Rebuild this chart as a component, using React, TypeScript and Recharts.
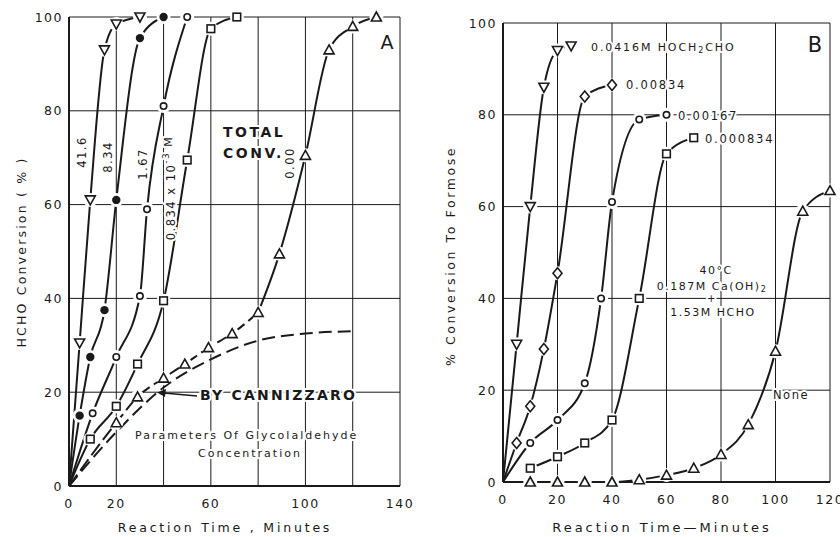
import React from 'react';
import { LineChart, Line, XAxis, YAxis, CartesianGrid } from 'recharts';

// Panel A: HCHO conversion (%) vs time, glycolaldehyde concentration x 10^-3 M
const timeA416 = [0, 4.5, 9, 15, 20, 30];
const convA416 = [0, 30.5, 61, 93, 98.5, 100];
const timeA834 = [0, 4.5, 9, 15, 20, 30, 40];
const convA834 = [0, 15, 27.5, 37.5, 61, 95.5, 100];
const timeA167 = [0, 10, 20, 30, 33, 40, 50];
const convA167 = [0, 15.5, 27.5, 40.5, 59, 81, 100];
const timeA0834 = [0, 9, 20, 29, 40, 50, 60, 71];
const convA0834 = [0, 10, 17, 26, 39.5, 69.5, 97.5, 100];
const timeA000 = [0, 20, 29, 40, 49, 59, 69, 80, 89, 100, 110, 120, 130];
const convA000 = [0, 13.5, 19, 23, 26, 29.5, 32.5, 37, 49.5, 70.5, 93, 98, 100];
const timeCannizzaro = [0, 20, 40, 60, 80, 100, 120];
const convCannizzaro = [0, 11.5, 21, 27, 31, 32.5, 33];

const ticksA_x = [0, 20, 40, 60, 80, 100, 120, 140];
const labelsA_x = [0, 20, 60, 100, 140];
const ticksY = [0, 20, 40, 60, 80, 100];

// Panel B: % conversion to formose vs time
const timeB0416 = [0, 5, 10, 15, 20, 25];
const convB0416 = [0, 30, 60, 86, 94, 95];
const timeB00834 = [0, 5, 10, 15, 20, 30, 40];
const convB00834 = [0, 8.5, 16.5, 29, 45.5, 84, 86.5];
const timeB00167 = [0, 10, 20, 30, 36, 40, 50, 60];
const convB00167 = [0, 8.5, 13.5, 21.5, 40, 61, 79, 80];
const timeB000834 = [10, 20, 30, 40, 50, 60, 70];
const convB000834 = [3, 5.5, 8.5, 13.5, 40, 71.5, 75];
const timeBNone = [0, 10, 20, 30, 40, 50, 60, 70, 80, 90, 100, 110, 120];
const convBNone = [0, 0, 0, 0, 0, 0.5, 1.5, 3, 6, 12.5, 28.5, 59, 63.5];

const ticksB_x = [0, 20, 40, 60, 80, 100, 120];

const zip = (ts: number[], vs: number[]) => ts.map((t, i) => ({ t, v: vs[i] }));

const INK = '#1a1a1a';
const FONT = '"DejaVu Sans", Verdana, sans-serif';

type Shape = 'triDown' | 'triUp' | 'dot' | 'circle' | 'square' | 'diamond';

const marker = (shape: Shape, name: string) => (p: any) => {
  const { cx, cy, index, payload } = p;
  const key = `${name}-${index}`;
  if (cx == null || cy == null || (payload && payload.t === 0 && payload.v === 0)) return <g key={key} />;
  const sw = 1.6;
  let m: React.ReactNode = null;
  if (shape === 'triDown')
    m = <polygon points={`${cx - 5},${cy - 4} ${cx + 5},${cy - 4} ${cx},${cy + 5}`} fill="#fff" stroke={INK} strokeWidth={sw} />;
  else if (shape === 'triUp')
    m = <polygon points={`${cx - 5},${cy + 4} ${cx + 5},${cy + 4} ${cx},${cy - 5}`} fill="#fff" stroke={INK} strokeWidth={sw} />;
  else if (shape === 'dot') m = <circle cx={cx} cy={cy} r={4.2} fill={INK} />;
  else if (shape === 'circle') m = <circle cx={cx} cy={cy} r={3.2} fill="#fff" stroke={INK} strokeWidth={sw} />;
  else if (shape === 'square')
    m = <rect x={cx - 3.8} y={cy - 3.8} width={7.6} height={7.6} fill="#fff" stroke={INK} strokeWidth={sw} />;
  else
    m = <polygon points={`${cx},${cy - 5.5} ${cx + 4.5},${cy} ${cx},${cy + 5.5} ${cx - 4.5},${cy}`} fill="#fff" stroke={INK} strokeWidth={sw} />;
  return (
    <g key={key}>
      <circle cx={cx} cy={cy} r={7} fill="#fff" />
      {m}
    </g>
  );
};

const XTick = (shown: number[]) => (p: any) => {
  const { x, y, payload } = p;
  if (!shown.includes(payload.value)) return <g />;
  return (
    <text x={x} y={y + 9} textAnchor="middle" dominantBaseline="central" fontSize={12.5} fontFamily={FONT} fill={INK} letterSpacing={1.5}>
      {payload.value}
    </text>
  );
};

const YTick = (p: any) => {
  const { x, y, payload } = p;
  return (
    <text x={x + 2} y={y} textAnchor="end" dominantBaseline="central" fontSize={12.5} fontFamily={FONT} fill={INK} letterSpacing={1.5}>
      {payload.value}
    </text>
  );
};

const T = ({ x, y, children, size = 11.5, weight = 400, rot, anchor = 'start', ls = 1.5 }: any) => (
  <text
    x={x}
    y={y}
    fontSize={size}
    fontWeight={weight}
    fontFamily={FONT}
    fill={INK}
    stroke="#fff"
    strokeWidth={4}
    paintOrder="stroke"
    letterSpacing={ls}
    textAnchor={anchor}
    dominantBaseline="central"
    transform={rot ? `rotate(${rot} ${x} ${y})` : undefined}
  >
    {children}
  </text>
);

const lineProps = { type: 'monotone' as const, dataKey: 'v', stroke: INK, strokeWidth: 2, isAnimationActive: false };

const a000 = zip(timeA000, convA000);

export default function App() {
  return (
    <div style={{ position: 'absolute', left: 0, top: 0, width: 840, height: 537, background: '#fff', overflow: 'hidden' }}>
      <div style={{ position: 'absolute', left: 0, top: 0 }}>
        <LineChart width={420} height={537} margin={{ top: 17, right: 20, bottom: 21, left: 0 }}>
          <CartesianGrid stroke={INK} strokeWidth={1} />
          <XAxis type="number" dataKey="t" domain={[0, 140]} ticks={ticksA_x} height={30} tickLine={false}
            axisLine={{ stroke: INK, strokeWidth: 2 }} tick={XTick(labelsA_x)} interval={0} allowDataOverflow />
          <YAxis type="number" domain={[0, 100]} ticks={ticksY} width={69} tickLine={false}
            axisLine={{ stroke: INK, strokeWidth: 2 }} tick={YTick} interval={0} />
          <Line {...lineProps} data={zip(timeCannizzaro, convCannizzaro)} strokeDasharray="13 6" dot={false} />
          {/* "0.00" curve: dashed along the slow part, solid on the steep rise */}
          <Line {...lineProps} data={a000.slice(0, 8)} strokeDasharray="14 5" dot={false} />
          <Line {...lineProps} data={a000.slice(7)} dot={false} />
          <Line {...lineProps} data={a000} stroke="none" dot={marker('triUp', 'a0')} />
          <Line {...lineProps} data={zip(timeA0834, convA0834)} dot={marker('square', 'a834s')} />
          <Line {...lineProps} data={zip(timeA167, convA167)} dot={marker('circle', 'a167')} />
          <Line {...lineProps} data={zip(timeA834, convA834)} dot={marker('dot', 'a834')} />
          <Line {...lineProps} data={zip(timeA416, convA416)} dot={marker('triDown', 'a416')} />
        </LineChart>
      </div>
      <div style={{ position: 'absolute', left: 420, top: 0 }}>
        <LineChart width={420} height={537} margin={{ top: 23, right: 10, bottom: 25, left: 0 }}>
          <CartesianGrid stroke={INK} strokeWidth={1} />
          <XAxis type="number" dataKey="t" domain={[0, 120]} ticks={ticksB_x} height={30} tickLine={false}
            axisLine={{ stroke: INK, strokeWidth: 2 }} tick={XTick(ticksB_x)} interval={0} />
          <YAxis type="number" domain={[0, 100]} ticks={ticksY} width={83} tickLine={false}
            axisLine={{ stroke: INK, strokeWidth: 2 }} tick={YTick} interval={0} />
          <Line {...lineProps} data={zip(timeBNone, convBNone)} dot={marker('triUp', 'bn')} />
          <Line {...lineProps} data={zip(timeB000834, convB000834)} dot={marker('square', 'b834s')} />
          <Line {...lineProps} data={zip(timeB00167, convB00167)} dot={marker('circle', 'b167')} />
          <Line {...lineProps} data={zip(timeB00834, convB00834)} dot={marker('diamond', 'b834')} />
          <Line {...lineProps} data={zip(timeB0416, convB0416)} dot={marker('triDown', 'b416')} />
        </LineChart>
      </div>
      <svg width={840} height={537} style={{ position: 'absolute', left: 0, top: 0, pointerEvents: 'none' }}>
        {/* panel A */}
        <T x={21} y={252} rot={-90} anchor="middle" size={12.5} ls={2.2}>HCHO Conversion ( % )</T>
        <T x={225} y={527} anchor="middle" size={12.5} ls={2.8}>Reaction Time , Minutes</T>
        <T x={82} y={152} rot={-90} anchor="middle">41.6</T>
        <T x={108} y={157} rot={-90} anchor="middle">8.34</T>
        <T x={143} y={164} rot={-90} anchor="middle">1.67</T>
        <T x={171} y={188} rot={-90} anchor="middle">
          0.834 x 10<tspan dy={-5} fontSize={9}>-3</tspan><tspan dy={2} fontSize={11}> M</tspan>
        </T>
        <T x={290} y={163} rot={-90} anchor="middle">0.00</T>
        <T x={223} y={132} size={14} weight={700} ls={2.5}>TOTAL</T>
        <T x={223} y={153} size={14} weight={700} ls={2.5}>CONV.</T>
        <T x={387} y={42} anchor="middle" size={19} ls={0}>A</T>
        <line x1={197} y1={396} x2={164} y2={393} stroke={INK} strokeWidth={1.5} />
        <polygon points="157,392.5 166,389 165,397" fill={INK} />
        <T x={200} y={395} size={14} weight={700} ls={2.2}>BY CANNIZZARO</T>
        <T x={135} y={435} size={11} ls={2}>Parameters Of Glycolaldehyde</T>
        <T x={250} y={453} anchor="middle" size={11} ls={2}>Concentration</T>
        {/* panel B */}
        <T x={450} y={256} rot={-90} anchor="middle" size={12.5} ls={2.6}>% Conversion To Formose</T>
        <T x={662} y={527} anchor="middle" size={13} ls={3}>Reaction Time—Minutes</T>
        <T x={591} y={47} size={11} ls={1.9}>
          0.0416M HOCH<tspan dy={3} fontSize={8}>2</tspan><tspan dy={-3}>CHO</tspan>
        </T>
        <T x={626} y={85} size={11.5} ls={1.8}>0.00834</T>
        <T x={678} y={116} size={11.5} ls={1.8}>0.00167</T>
        <T x={705} y={139} size={11.5} ls={1.8}>0.000834</T>
        <T x={815} y={45} anchor="middle" size={21} ls={0}>B</T>
        <T x={716} y={270} anchor="middle" size={11}>40°C</T>
        <T x={712} y={286} anchor="middle" size={11}>
          0.187M Ca(OH)<tspan dy={3} fontSize={8}>2</tspan>
        </T>
        <T x={712} y={298.5} anchor="middle" size={10}>+</T>
        <T x={713} y={312} anchor="middle" size={11}>1.53M HCHO</T>
        <T x={773} y={395} size={11.5} ls={1.5}>None</T>
      </svg>
    </div>
  );
}
